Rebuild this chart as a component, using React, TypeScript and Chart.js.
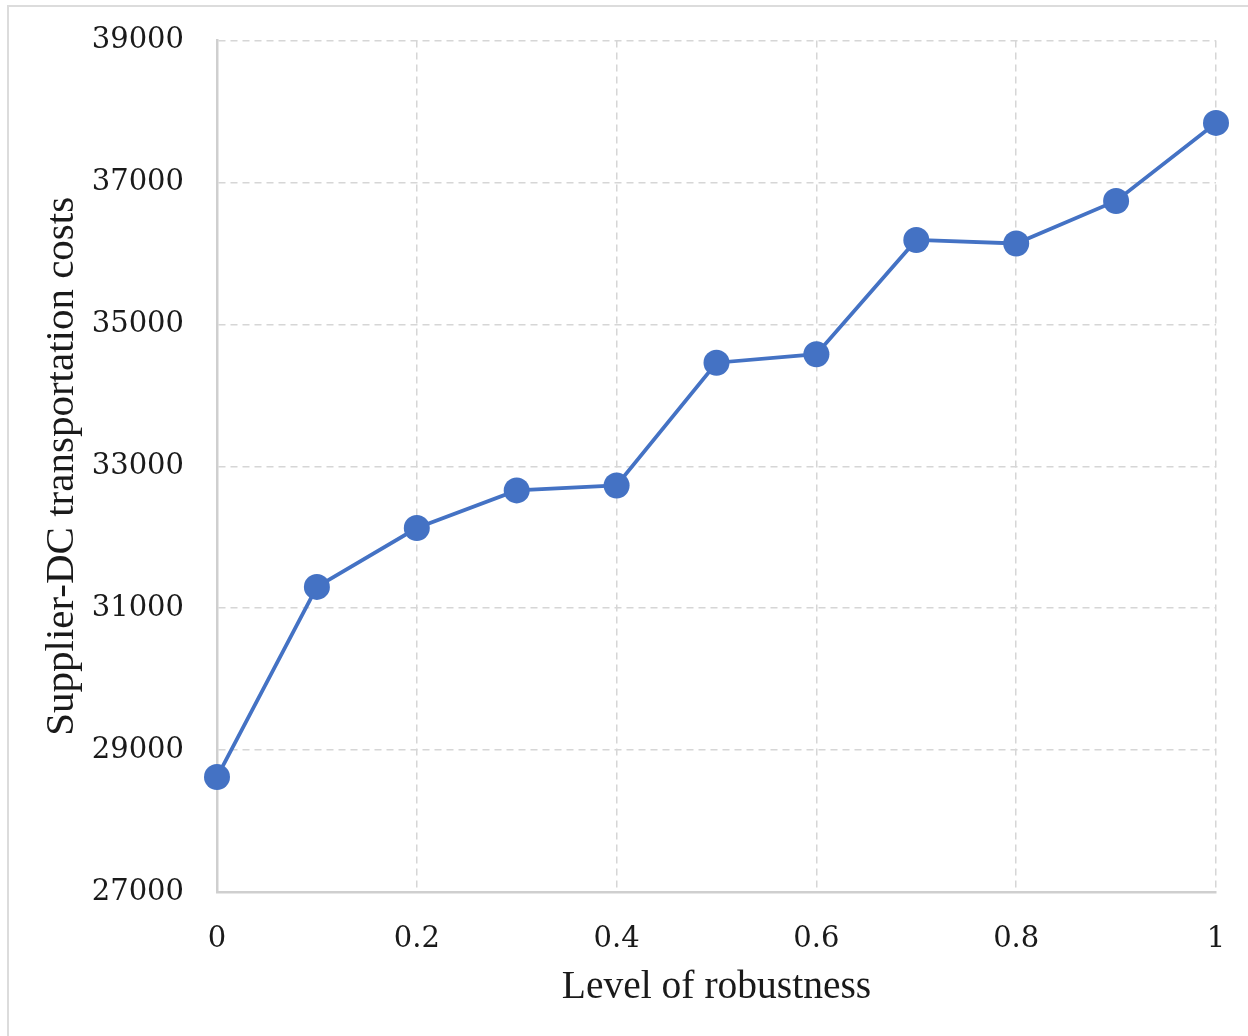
import React, { useEffect, useRef } from "react";
import { Chart, registerables } from "chart.js";

Chart.register(...registerables);

// Level of robustness (x) and supplier-DC transportation cost (y)
const robustnessLevels = [0, 0.1, 0.2, 0.3, 0.4, 0.5, 0.6, 0.7, 0.8, 0.9, 1];
const transportCosts = [28620, 31300, 32130, 32660, 32730, 34460, 34580, 36190, 36140, 36740, 37840];

const xTickValues = [0, 0.2, 0.4, 0.6, 0.8, 1];
const yTickValues = [27000, 29000, 31000, 33000, 35000, 37000, 39000];

const W = 1248;
const H = 1036;

export default function App() {
  const canvasRef = useRef<HTMLCanvasElement | null>(null);

  useEffect(() => {
    const canvas = canvasRef.current;
    if (!canvas) return;

    const points = robustnessLevels.map((x, i) => ({ x, y: transportCosts[i] }));
    const lineColor = "#4472C4";
    const gridColor = "#d6d6d6";
    const tickFont = { family: "'DejaVu Serif', serif", size: 29 };

    const chart = new Chart(canvas, {
      type: "line",
      data: {
        datasets: [
          {
            data: points,
            borderColor: lineColor,
            borderWidth: 3.8,
            backgroundColor: lineColor,
            pointBackgroundColor: lineColor,
            pointBorderWidth: 0,
            pointRadius: 13,
            pointHoverRadius: 13,
            tension: 0,
            clip: false,
          },
        ],
      },
      options: {
        responsive: false,
        animation: false,
        events: [],
        layout: { padding: { left: 0, top: 40.6, right: 32, bottom: 0 } },
        plugins: {
          legend: { display: false },
          tooltip: { enabled: false },
        },
        scales: {
          x: {
            type: "linear",
            min: 0,
            max: 1,
            afterBuildTicks: (scale: any) => {
              scale.ticks = xTickValues.map((v) => ({ value: v }));
            },
            afterFit: (scale: any) => {
              scale.height = 144;
              scale.paddingLeft = 0;
              scale.paddingRight = 0;
            },
            ticks: {
              color: "#1a1a1a",
              font: tickFont,
              padding: 30,
              maxRotation: 0,
              callback: (v: any) => String(Number(Number(v).toFixed(1))),
            },
            grid: {
              color: gridColor,
              lineWidth: 1.5,
              drawTicks: false,
            },
            border: {
              display: true,
              color: "#cfcfcf",
              width: 2.5,
              dash: [7, 5],
            },
            title: {
              display: true,
              text: "Level of robustness",
              color: "#1a1a1a",
              font: { family: "'Liberation Serif', serif", size: 39.5 },
              padding: { top: 0, bottom: 25 },
            },
          },
          y: {
            type: "linear",
            min: 27000,
            max: 39000,
            afterBuildTicks: (scale: any) => {
              scale.ticks = yTickValues.map((v) => ({ value: v }));
            },
            afterFit: (scale: any) => {
              scale.width = 217;
              scale.paddingTop = 0;
              scale.paddingBottom = 0;
            },
            ticks: {
              color: "#1a1a1a",
              font: tickFont,
              padding: 33,
              callback: (v: any) => String(v),
            },
            grid: {
              color: gridColor,
              lineWidth: 1.5,
              drawTicks: false,
            },
            border: {
              display: true,
              color: "#cfcfcf",
              width: 2.5,
              dash: [7, 5],
            },
            title: {
              display: true,
              text: "Supplier-DC transportation costs",
              color: "#1a1a1a",
              font: { family: "'Liberation Serif', serif", size: 41 },
              padding: { top: 38, bottom: 0 },
            },
          },
        },
      },
    });

    return () => chart.destroy();
  }, []);

  return (
    <div
      style={{
        position: "fixed",
        left: 0,
        top: 0,
        width: W,
        height: H,
        background: "#ffffff",
        overflow: "hidden",
      }}
    >
      <div
        style={{
          position: "absolute",
          left: 7,
          top: 5,
          width: W + 20,
          height: H + 20,
          border: "2px solid #dcdcdc",
          boxSizing: "border-box",
        }}
      />
      <canvas
        ref={canvasRef}
        width={W}
        height={H}
        style={{ position: "absolute", left: 0, top: 0, width: W, height: H }}
      />
    </div>
  );
}
